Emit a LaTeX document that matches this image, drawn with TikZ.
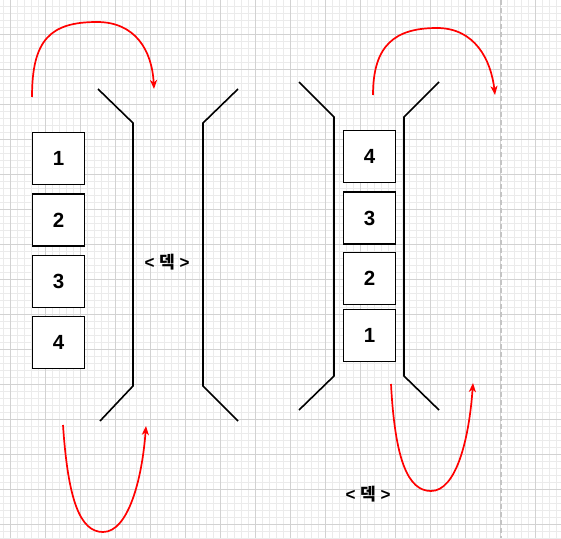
\documentclass[tikz,border=0pt]{standalone}
\usepackage{fontspec}
\setmainfont{Liberation Sans}
\newfontfamily\cjk{Noto Sans CJK KR}
\usetikzlibrary{arrows.meta}
\definecolor{gridminor}{HTML}{EBEBEB}
\definecolor{gridmajor}{HTML}{D2D2D2}
\definecolor{dashgray}{HTML}{C4C4C4}
\tikzset{
  card/.style={draw=black, fill=white, line width=1.7pt, minimum width=52pt, minimum height=52pt, inner sep=0pt, font=\fontsize{20.5}{22}\selectfont\bfseries},
  wall/.style={draw=black, line width=1.6pt},
  flip/.style={draw=red, line width=1.7pt, -{Stealth[length=9pt,width=7pt,inset=2.5pt]}},
  decklabel/.style={inner sep=0pt, font=\fontsize{17}{18}\selectfont\bfseries},
}
\begin{document}
\begin{tikzpicture}[x=1pt,y=-1pt]
\useasboundingbox (0,0) rectangle (561,538);
\fill[white] (0,0) rectangle (561,538);
% grid
\foreach \x in {3,10,...,561} \draw[gridminor, line width=0.9pt] (\x,0) -- (\x,538);
\foreach \y in {6,13,...,538} \draw[gridminor, line width=0.9pt] (0,\y) -- (561,\y);
\foreach \x in {10,45,...,561} \draw[gridmajor, line width=1pt] (\x,0) -- (\x,538);
\foreach \y in {34,69,...,538} \draw[gridmajor, line width=1pt] (0,\y) -- (561,\y);
\draw[dashgray, line width=1.6pt, dash pattern=on 5pt off 3pt] (501,0) -- (501,538);

% left funnel
\draw[wall] (98,89) -- (133,123) -- (133,386) -- (100,421);
\draw[wall] (238,89) -- (203,123) -- (203,386) -- (238,421);
% right funnel
\draw[wall] (299,82) -- (334,117) -- (334,376) -- (299,410);
\draw[wall] (439,82) -- (404,117) -- (404,376) -- (439,410);

% left cards
\node[card] (L1) at (58.5,158.5) {1};
\node[card] (L2) at (58.5,220) {2};
\node[card] (L3) at (58.5,281.5) {3};
\node[card] (L4) at (58.5,342.5) {4};
% right cards
\node[card] (R4) at (369.5,156.5) {4};
\node[card] (R3) at (369.5,218) {3};
\node[card] (R2) at (369.5,278.5) {2};
\node[card] (R1) at (369.5,335.5) {1};

% labels
\node[decklabel] (deckA) at (167,262) {<\ {\cjk 덱}\ >};
\node[decklabel] (deckB) at (368,494) {<\ {\cjk 덱}\ >};

% arrow end points
\coordinate (a1s) at (32,97);   \coordinate (a1p) at (97,22);   \coordinate (a1e) at (154,89);
\coordinate (a2s) at (373,95);  \coordinate (a2p) at (437,28);  \coordinate (a2e) at (495,95);
\coordinate (a3s) at (63,425);  \coordinate (a3p) at (103,532); \coordinate (a3e) at (146,426);
\coordinate (a4s) at (391,384); \coordinate (a4p) at (431,491); \coordinate (a4e) at (473,383);

\draw[flip] (a1s) .. controls (32,40) and (50,22) .. (a1p) .. controls (135,22) and (152,50) .. (a1e);
\draw[flip] (a2s) .. controls (373,45) and (395,28) .. (a2p) .. controls (475,28) and (491,60) .. (a2e);
\draw[flip] (a3s) .. controls (68,500) and (80,532) .. (a3p) .. controls (128,532) and (142,480) .. (a3e);
\draw[flip] (a4s) .. controls (395,460) and (408,491) .. (a4p) .. controls (456,491) and (469,440) .. (a4e);
\end{tikzpicture}
\end{document}
